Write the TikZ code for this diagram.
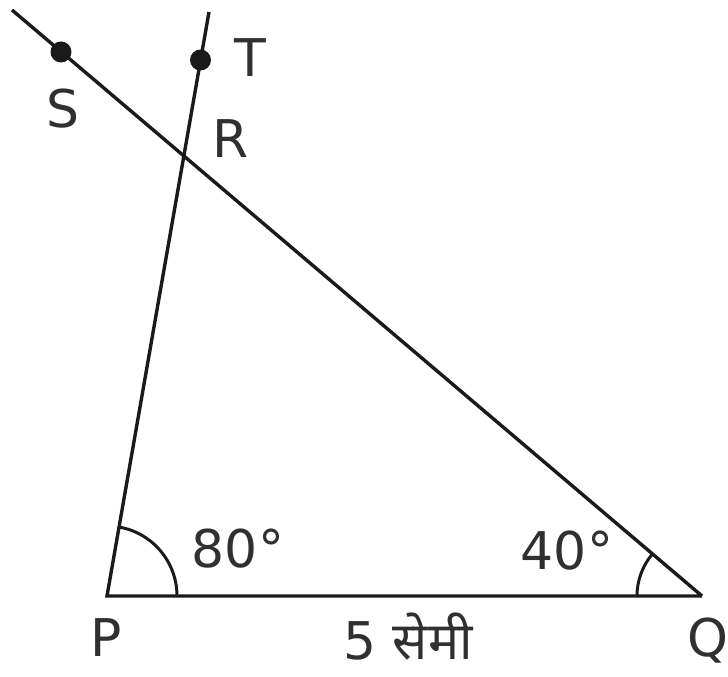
\documentclass[tikz,border=0pt]{standalone}
\usepackage{fontspec}
\setmainfont{DejaVu Sans}
\newfontfamily\deva[Script=Devanagari]{Noto Sans}
\definecolor{ink}{HTML}{1A1A1A}
\definecolor{txt}{HTML}{303030}
\begin{document}
\begin{tikzpicture}[x=1pt,y=1pt,
  seg/.style={draw=ink,line width=3.4pt},
  arcm/.style={draw=ink,line width=3pt},
  lbl/.style={text=txt,inner sep=0pt,anchor=base,font=\fontsize{52}{60}\selectfont},
  dotm/.style={fill=ink,circle,inner sep=0pt,minimum size=21pt}]
\useasboundingbox (0,0) rectangle (728,677);
\coordinate (P) at (107,81);
\coordinate (Q) at (702,81);
\coordinate (Send) at (12,667);
\coordinate (Tend) at (209,665);
\draw[seg,line join=miter] (Q) -- (P) -- (Tend);
\draw[seg] (Q) -- (Send);
\node[dotm] (S) at (61,625) {};
\node[dotm] (T) at (200.5,617) {};
\draw[arcm] ([shift={(0:70pt)}]P) arc[start angle=0,end angle=80,radius=70pt];
\draw[arcm] ([shift={(180:65pt)}]Q) arc[start angle=180,end angle=139.7,radius=65pt];
\node[lbl] (lS) at (63,549) {S};
\node[lbl] (lT) at (250,600) {T};
\node[lbl] (lR) at (231,519) {R};
\node[lbl] (lP) at (106,20) {P};
\node[lbl] (lQ) at (708,20) {Q};
\node[lbl] (a80) at (238,109) {80°};
\node[lbl] (a40) at (567,107) {40°};
\node[lbl] (len) at (408,17) {5 {\deva सेमी}};
\end{tikzpicture}
\end{document}
